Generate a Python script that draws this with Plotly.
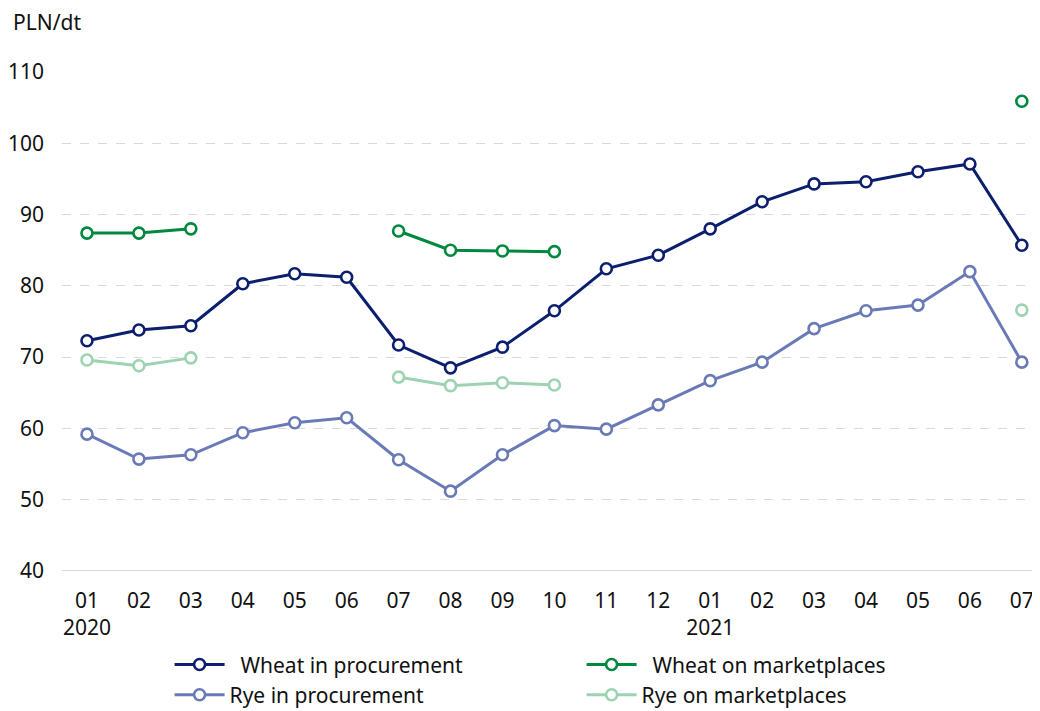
import plotly.graph_objects as go

MONTHS = ["01", "02", "03", "04", "05", "06", "07", "08", "09", "10", "11", "12",
          "01", "02", "03", "04", "05", "06", "07"]
YEAR_LABELS = {0: "2020", 12: "2021"}

WHEAT_PROCUREMENT = [72.3, 73.8, 74.4, 80.3, 81.7, 81.2, 71.7, 68.5, 71.4, 76.5,
                     82.4, 84.3, 88.0, 91.8, 94.3, 94.6, 96.0, 97.1, 85.7]
RYE_PROCUREMENT = [59.2, 55.7, 56.3, 59.4, 60.8, 61.5, 55.6, 51.2, 56.3, 60.4,
                   59.9, 63.3, 66.7, 69.3, 74.0, 76.5, 77.3, 82.0, 69.3]
WHEAT_MARKET = [87.4, 87.4, 88.0, None, None, None, 87.7, 85.0, 84.9, 84.8,
                None, None, None, None, None, None, None, None, 105.9]
RYE_MARKET = [69.6, 68.8, 69.9, None, None, None, 67.2, 66.0, 66.4, 66.1,
              None, None, None, None, None, None, None, None, 76.6]

FONT = "Noto Sans, Open Sans, sans-serif"

x = list(range(len(MONTHS)))
ticktext = [f"{m}<br>{YEAR_LABELS[i]}" if i in YEAR_LABELS else m for i, m in enumerate(MONTHS)]

series = [
    ("  Wheat in procurement", WHEAT_PROCUREMENT, "#0b1f6e"),
    ("  Wheat on marketplaces", WHEAT_MARKET, "#00883f"),
    ("Rye in procurement", RYE_PROCUREMENT, "#6a7ab6"),
    ("Rye on marketplaces", RYE_MARKET, "#9dd3b1"),
]

fig = go.Figure()
for name, values, color in series:
    fig.add_trace(
        go.Scatter(
            x=x,
            y=values,
            mode="lines+markers",
            name=name,
            line={"color": color, "width": 3},
            marker={"symbol": "circle", "size": 11, "color": "white",
                    "line": {"color": color, "width": 2.6}},
            cliponaxis=False,
        )
    )

# page body adds an 8px offset, so the figure is 8px smaller than the window
fig.add_annotation(
    text="PLN/dt", xref="paper", yref="paper", x=-0.052, y=1.10,
    xanchor="left", yanchor="middle", showarrow=False,
    font={"size": 21, "color": "#111111", "family": FONT},
)

fig.update_layout(
    width=1032,
    height=703,
    margin={"l": 54, "r": 0, "t": 64, "b": 140, "autoexpand": False},
    paper_bgcolor="white",
    plot_bgcolor="white",
    font={"family": FONT, "size": 21, "color": "#111111"},
    showlegend=True,
    legend={
        "orientation": "h",
        "x": 0.11,
        "y": -0.147,
        "xanchor": "left",
        "yanchor": "top",
        "entrywidth": 347,
        "entrywidthmode": "pixels",
        "font": {"size": 21},
        "tracegroupgap": 0,
        "itemwidth": 50,
    },
)
fig.update_xaxes(
    range=[-0.481, 18.35],
    tickmode="array",
    tickvals=x,
    ticktext=ticktext,
    showgrid=False,
    zeroline=False,
    showline=False,
    ticks="",
    ticklabelstandoff=15,
    automargin=False,
)
fig.update_yaxes(
    range=[40, 110],
    tickvals=[40, 50, 60, 70, 80, 90, 100, 110],
    showgrid=True,
    gridcolor="#d9d9d9",
    griddash="dash",
    gridwidth=1,
    zeroline=False,
    showline=False,
    ticks="",
    ticklabelstandoff=17,
    automargin=False,
)
fig.add_shape(type="line", xref="paper", yref="y", x0=0, x1=1, y0=40, y1=40,
              line={"color": "#cccccc", "width": 1.5}, layer="below")

fig.write_html("out.html")
